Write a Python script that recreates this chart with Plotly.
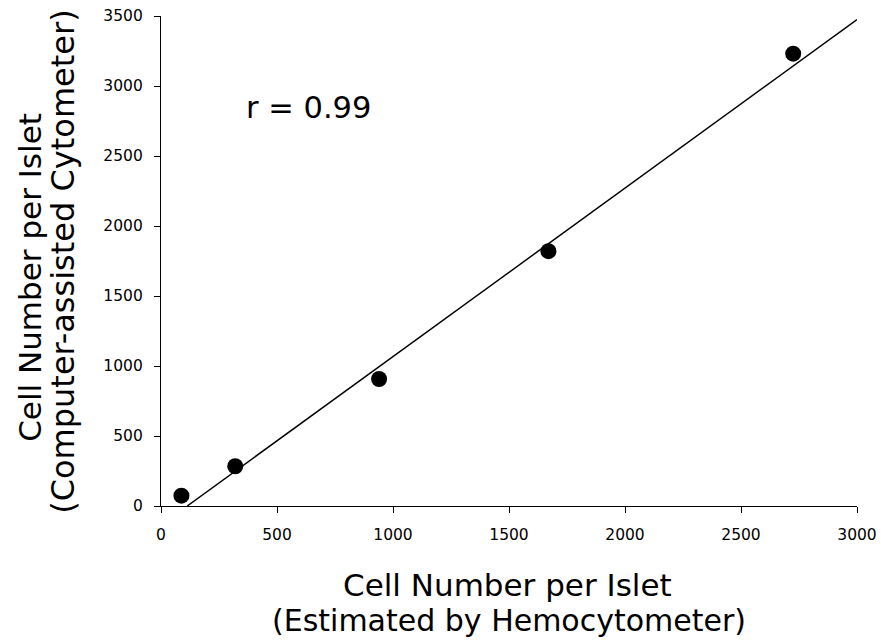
import plotly.graph_objects as go

# Data
hemocytometer = [88, 320, 940, 1670, 2725]
cytometer = [74, 284, 907, 1820, 3231]

# Regression line endpoints as drawn in the reference
fit_x = [113, 3000]
fit_y = [0, 3474]

x_ticks = [0, 500, 1000, 1500, 2000, 2500, 3000]
y_ticks = [0, 500, 1000, 1500, 2000, 2500, 3000, 3500]

r_label = "r = 0.99"
x_title = ["Cell Number per Islet", "(Estimated by Hemocytometer)"]
y_title = ["Cell Number per Islet", "(Computer-assisted Cytometer)"]

FONT = "DejaVu Sans"

fig = go.Figure()
fig.add_trace(go.Scatter(x=fit_x, y=fit_y, mode="lines",
                         line=dict(color="black", width=1.5),
                         hoverinfo="skip", showlegend=False, cliponaxis=True))
fig.add_trace(go.Scatter(x=hemocytometer, y=cytometer, mode="markers",
                         marker=dict(color="black", size=16),
                         showlegend=False, cliponaxis=False))

axis_common = dict(showgrid=False, zeroline=False, showline=True,
                   linecolor="black", linewidth=1.2, ticks="outside",
                   ticklen=6, tickwidth=1.2, tickcolor="black",
                   automargin=False,
                   tickfont=dict(family=FONT, size=15.5, color="black"))

fig.update_xaxes(range=[0, 3000], tickvals=x_ticks,
                 ticktext=[str(v) for v in x_ticks],
                 ticklabelstandoff=8, **axis_common)
fig.update_yaxes(range=[0, 3500], tickvals=y_ticks,
                 ticktext=[str(v) for v in y_ticks],
                 ticklabelstandoff=8, **axis_common)

annotations = [
    dict(x=635, y=2848, xref="x", yref="y", text=r_label, showarrow=False,
         font=dict(family=FONT, size=30.5, color="black"),
         xanchor="center", yanchor="middle"),
    dict(x=0.5, y=0, xref="paper", yref="paper", text=x_title[0], showarrow=False,
         font=dict(family=FONT, size=31, color="black"),
         xanchor="center", yanchor="middle", yshift=-(585 - 505.7), xshift=-2),
    dict(x=0.5, y=0, xref="paper", yref="paper", text=x_title[1], showarrow=False,
         font=dict(family=FONT, size=30, color="black"),
         xanchor="center", yanchor="middle", yshift=-(620 - 505.7), xshift=0),
    dict(x=0, y=0, xref="paper", yref="paper", text=y_title[0], showarrow=False,
         font=dict(family=FONT, size=31, color="black"), textangle=-90,
         xanchor="center", yanchor="middle", xshift=-(160.5 - 30),
         yshift=505.7 - 277),
    dict(x=0, y=0, xref="paper", yref="paper", text=y_title[1], showarrow=False,
         font=dict(family=FONT, size=32, color="black"), textangle=-90,
         xanchor="center", yanchor="middle", xshift=-(160.5 - 63),
         yshift=505.7 - 262),
]

fig.update_layout(width=881, height=640,
                  margin=dict(l=160.5, r=23.5, t=15.7, b=134.3, autoexpand=False),
                  paper_bgcolor="white", plot_bgcolor="white",
                  annotations=annotations, showlegend=False)

fig.write_html("out.html")
